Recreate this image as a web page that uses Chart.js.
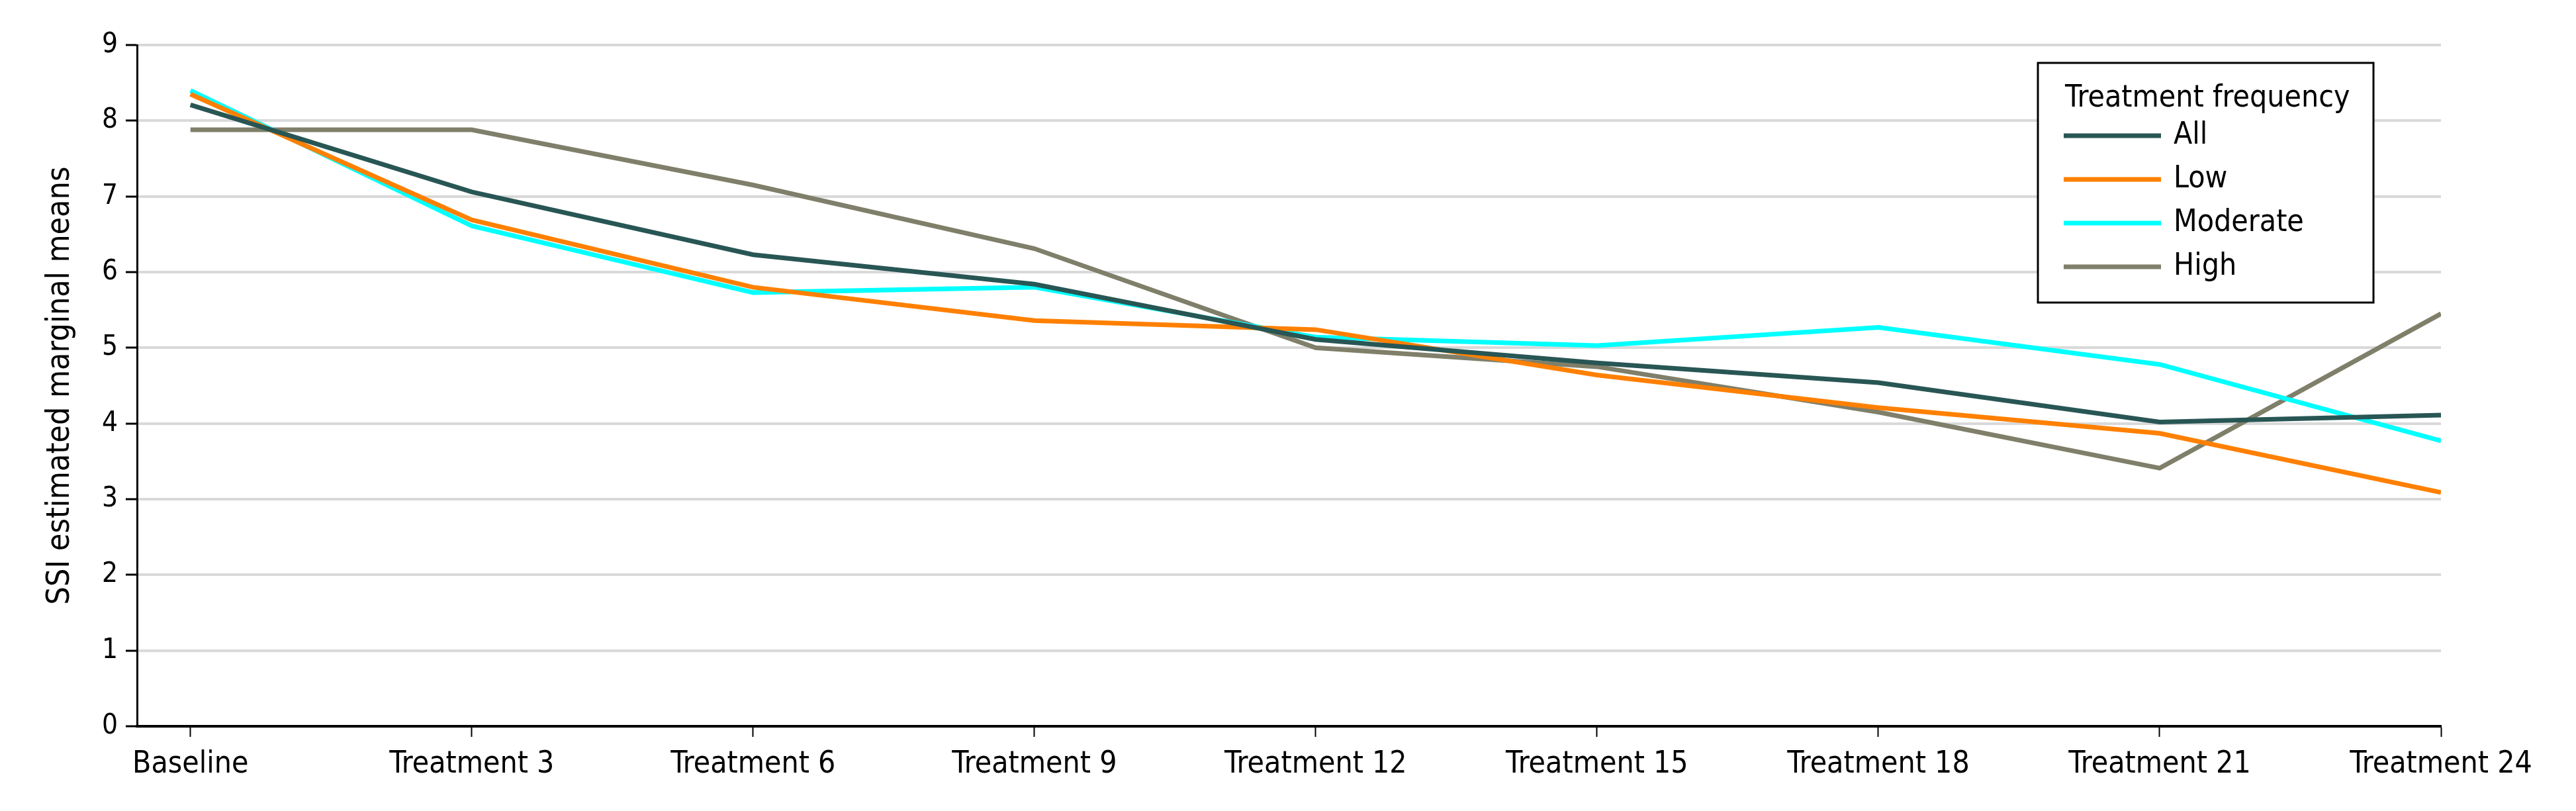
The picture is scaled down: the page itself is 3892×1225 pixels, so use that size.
<!DOCTYPE html>
<html>
<head>
<meta charset="utf-8">
<script src="https://cdn.jsdelivr.net/npm/chart.js@4.4.1/dist/chart.umd.min.js"></script>
<style>
html, body { margin: 0; padding: 0; background: #fff; }
#wrap { width: 3892px; height: 1225px; }
</style>
</head>
<body>
<div id="wrap"><canvas id="myChart" width="3892" height="1225"></canvas></div>
<script>
var categories = ['Baseline', 'Treatment 3', 'Treatment 6', 'Treatment 9', 'Treatment 12',
    'Treatment 15', 'Treatment 18', 'Treatment 21', 'Treatment 24'];
var seriesNames = ['All', 'Low', 'Moderate', 'High'];
var allValues = [8.21, 7.06, 6.23, 5.84, 5.11, 4.80, 4.54, 4.02, 4.11];
var lowValues = [8.35, 6.69, 5.80, 5.36, 5.24, 4.64, 4.21, 3.87, 3.09];
var moderateValues = [8.40, 6.61, 5.73, 5.80, 5.14, 5.03, 5.27, 4.78, 3.77];
var highValues = [7.88, 7.88, 7.15, 6.31, 5.00, 4.75, 4.15, 3.41, 5.45];
var yTicks = [0, 1, 2, 3, 4, 5, 6, 7, 8, 9];
var colors = ['#285654', '#ff8000', '#00ffff', '#7f7f6a'];

var fontFamily = '"DejaVu Sans Condensed", "Liberation Sans Narrow", sans-serif';

function toPoints(values) {
    return values.map(function (v, i) { return { x: i, y: v }; });
}

var allSeries = [allValues, lowValues, moderateValues, highValues];
var datasets = allSeries.map(function (vals, k) {
    return {
        label: seriesNames[k],
        data: toPoints(vals),
        borderColor: colors[k],
        backgroundColor: colors[k],
        borderWidth: 7,
        pointRadius: 0,
        tension: 0
    };
});

// legend drawn as a boxed panel inside the plot area, top right
var boxLegend = {
    id: 'boxLegend',
    afterDraw: function (chart) {
        var ctx = chart.ctx;
        var area = chart.chartArea;
        var right = area.right - 102;
        var left = right - 507;
        var top = area.top + 27;
        var bottom = top + 362;
        ctx.save();
        ctx.fillStyle = '#fff';
        ctx.fillRect(left, top, right - left, bottom - top);
        ctx.strokeStyle = '#000';
        ctx.lineWidth = 3;
        ctx.strokeRect(left, top, right - left, bottom - top);
        ctx.fillStyle = '#000';
        ctx.textBaseline = 'middle';
        ctx.textAlign = 'left';
        ctx.font = '46px ' + fontFamily;
        ctx.fillText('Treatment frequency', left + 41, top + 54);
        chart.data.datasets.forEach(function (ds, i) {
            var y = top + 110 + i * 66;
            ctx.fillStyle = ds.borderColor;
            ctx.fillRect(left + 39, y - 3.5, 147, 7);
            ctx.fillStyle = '#000';
            ctx.fillText(ds.label, left + 205, y);
        });
        ctx.restore();
    }
};

var ctx = document.getElementById('myChart').getContext('2d');
var myChart = new Chart(ctx, {
    type: 'line',
    data: { datasets: datasets },
    plugins: [boxLegend],
    options: {
        responsive: false,
        animation: false,
        devicePixelRatio: 1,
        layout: { padding: { left: 0, top: 68, right: 204, bottom: 0 } },
        plugins: {
            legend: { display: false },
            tooltip: { enabled: false }
        },
        scales: {
            x: {
                type: 'linear',
                min: -0.19,
                max: 8,
                afterBuildTicks: function (scale) {
                    scale.ticks = categories.map(function (c, i) { return { value: i }; });
                },
                afterFit: function (scale) { scale.height = 128; },
                ticks: {
                    autoSkip: false,
                    maxRotation: 0,
                    padding: 14,
                    color: '#000',
                    font: { family: fontFamily, size: 46 },
                    callback: function (v) { return categories[v]; }
                },
                grid: {
                    drawOnChartArea: false,
                    tickLength: 16,
                    tickWidth: 2,
                    tickColor: '#000'
                },
                border: { display: true, color: '#000', width: 4 }
            },
            y: {
                min: 0,
                max: 9,
                afterBuildTicks: function (scale) {
                    scale.ticks = yTicks.map(function (v) { return { value: v }; });
                },
                afterFit: function (scale) { scale.width = 207; },
                ticks: {
                    padding: 12,
                    color: '#000',
                    font: { family: fontFamily, size: 42 }
                },
                title: {
                    display: true,
                    text: 'SSI estimated marginal means',
                    color: '#000',
                    font: { family: fontFamily, size: 48, lineHeight: 1.2 },
                    padding: { top: 63, bottom: 0 }
                },
                grid: {
                    color: '#d9d9d9',
                    lineWidth: 4,
                    tickLength: 17,
                    tickWidth: 3,
                    tickColor: '#000'
                },
                border: { display: true, color: '#000', width: 3 }
            }
        }
    }
});
</script>
</body>
</html>
